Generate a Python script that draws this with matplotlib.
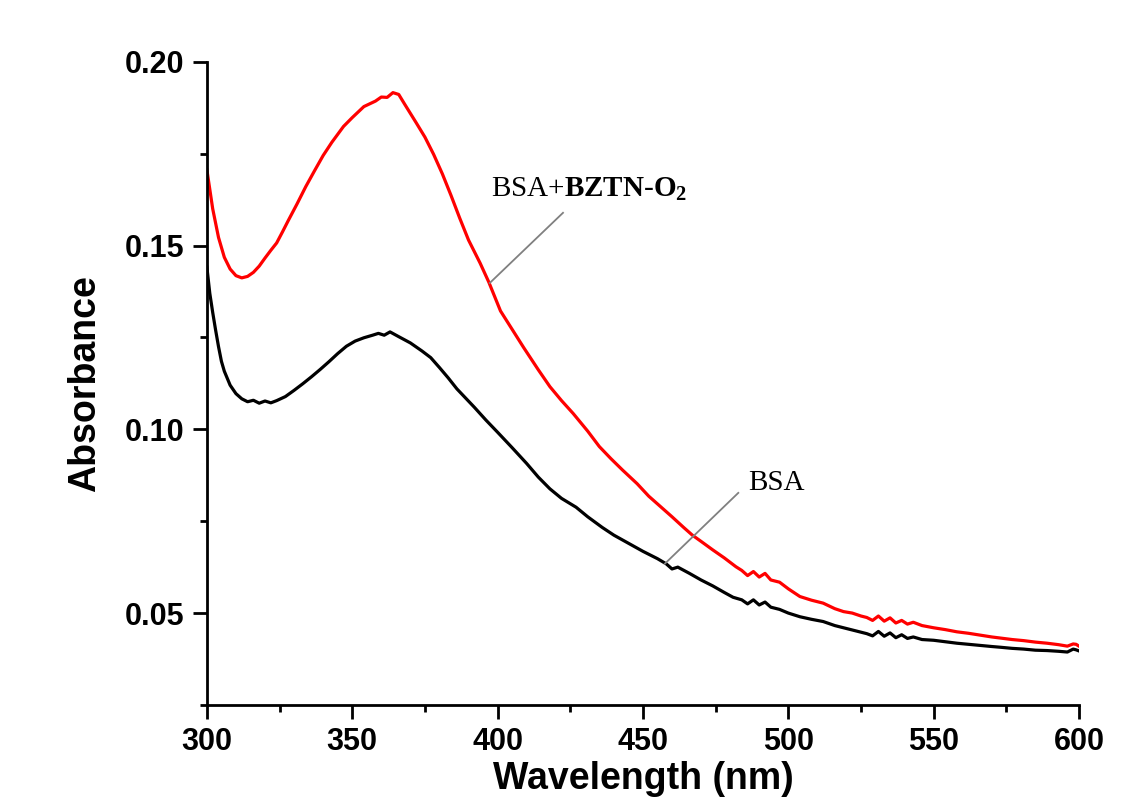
import matplotlib
matplotlib.use("Agg")
import matplotlib.pyplot as plt
from matplotlib.ticker import MultipleLocator

plt.rcParams['font.family'] = ['Liberation Sans', 'DejaVu Sans']
plt.rcParams['mathtext.fontset'] = 'custom'
plt.rcParams['mathtext.rm'] = 'Liberation Serif'
plt.rcParams['mathtext.bf'] = 'Liberation Serif:bold'

# BSA + BZTN-O2 spectrum
wl_mix = [300, 302, 304, 306, 308, 310, 312, 314, 316, 318,
          320, 322, 324, 326, 328, 331, 334, 337, 340, 343,
          347, 350, 354, 358, 360, 362, 364, 366, 368, 372,
          375, 378, 381, 384, 387, 390, 394, 397, 401, 405,
          409, 414, 418, 422, 426, 431, 435, 439, 443, 448,
          452, 456, 460, 464, 467, 470, 474, 478, 482, 484,
          486, 488, 490, 492, 494, 497, 500, 504, 508, 512,
          516, 519, 522, 525, 527, 529, 531, 533, 535, 537,
          539, 541, 543, 546, 550, 554, 558, 562, 566, 570,
          573, 577, 581, 585, 589, 593, 596, 598, 599, 600]
abs_mix = [0.1706, 0.1600, 0.1522, 0.1468, 0.1436, 0.1418, 0.1412, 0.1416, 0.1427, 0.1444,
           0.1466, 0.1487, 0.1507, 0.1537, 0.1568, 0.1613, 0.1660, 0.1703, 0.1745, 0.1781,
           0.1824, 0.1848, 0.1878, 0.1893, 0.1904, 0.1903, 0.1916, 0.1911, 0.1885, 0.1834,
           0.1795, 0.1748, 0.1695, 0.1636, 0.1574, 0.1515, 0.1452, 0.1400, 0.1322, 0.1272,
           0.1222, 0.1162, 0.1116, 0.1078, 0.1043, 0.0995, 0.0953, 0.0920, 0.0889, 0.0852,
           0.0818, 0.0790, 0.0762, 0.0733, 0.0712, 0.0695, 0.0672, 0.0650, 0.0626, 0.0616,
           0.0602, 0.0613, 0.0598, 0.0608, 0.0590, 0.0584, 0.0566, 0.0545, 0.0535, 0.0527,
           0.0512, 0.0504, 0.0500, 0.0492, 0.0488, 0.0480, 0.0492, 0.0478, 0.0487, 0.0473,
           0.0480, 0.0470, 0.0475, 0.0466, 0.0460, 0.0455, 0.0449, 0.0445, 0.0440, 0.0435,
           0.0432, 0.0428, 0.0425, 0.0421, 0.0418, 0.0414, 0.0410, 0.0416, 0.0415, 0.0410]

# BSA alone
wl_bsa = [300, 301, 302, 303, 304, 305, 306, 308, 310, 312,
          314, 316, 318, 320, 322, 324, 327, 330, 333, 336,
          339, 342, 345, 348, 351, 354, 357, 359, 361, 363,
          366, 370, 374, 377, 380, 383, 386, 389, 392, 396,
          400, 405, 410, 414, 418, 422, 427, 431, 436, 440,
          445, 450, 455, 458, 460, 462, 466, 470, 474, 478,
          481, 484, 486, 488, 490, 492, 494, 497, 500, 504,
          508, 512, 516, 520, 524, 527, 529, 531, 533, 535,
          537, 539, 541, 543, 546, 550, 554, 558, 562, 566,
          570, 573, 577, 581, 585, 589, 593, 596, 598, 599, 600]
abs_bsa = [0.1441, 0.1370, 0.1318, 0.1270, 0.1225, 0.1185, 0.1158, 0.1120, 0.1097, 0.1083,
           0.1075, 0.1079, 0.1071, 0.1077, 0.1072, 0.1078, 0.1089, 0.1106, 0.1124, 0.1143,
           0.1163, 0.1184, 0.1206, 0.1226, 0.1240, 0.1249, 0.1256, 0.1261, 0.1256, 0.1265,
           0.1252, 0.1235, 0.1213, 0.1195, 0.1168, 0.1140, 0.1110, 0.1085, 0.1060, 0.1025,
           0.0992, 0.0950, 0.0907, 0.0870, 0.0838, 0.0812, 0.0788, 0.0762, 0.0733, 0.0712,
           0.0690, 0.0668, 0.0648, 0.0634, 0.0620, 0.0625, 0.0608, 0.0590, 0.0574, 0.0556,
           0.0543, 0.0536, 0.0525, 0.0536, 0.0522, 0.0530, 0.0516, 0.0510, 0.0500, 0.0490,
           0.0483, 0.0477, 0.0466, 0.0458, 0.0450, 0.0444, 0.0438, 0.0450, 0.0437, 0.0446,
           0.0433, 0.0441, 0.0431, 0.0435, 0.0428, 0.0426, 0.0422, 0.0418, 0.0415, 0.0412,
           0.0409, 0.0407, 0.0404, 0.0402, 0.0399, 0.0398, 0.0396, 0.0394, 0.0402, 0.0400, 0.0397]

fig = plt.figure(figsize=(11.43, 8.02), dpi=100)
ax = fig.add_axes([0.181, 0.121, 0.763, 0.802])

ax.plot(wl_mix, abs_mix, color='#ff0000', lw=2.3)
ax.plot(wl_bsa, abs_bsa, color='black', lw=2.3)

ax.set_xlim(300, 600)
ax.set_ylim(0.025, 0.20)
ax.xaxis.set_major_locator(MultipleLocator(50))
ax.xaxis.set_minor_locator(MultipleLocator(25))
ax.yaxis.set_minor_locator(MultipleLocator(0.025))
ax.set_yticks([0.05, 0.10, 0.15, 0.20])
ax.set_yticklabels(['0.05', '0.10', '0.15', '0.20'])

for side in ['top', 'right']:
    ax.spines[side].set_visible(False)
for side in ['left', 'bottom']:
    ax.spines[side].set_linewidth(2.0)

ax.tick_params(which='major', direction='out', length=10, width=2.0, pad=6,
               labelsize=22)
ax.tick_params(which='minor', direction='out', length=5, width=2.0)
for lab in ax.get_xticklabels() + ax.get_yticklabels():
    lab.set_fontweight('bold')

ax.set_xlabel('Wavelength (nm)', fontsize=27, fontweight='bold', labelpad=3)
ax.set_ylabel('Absorbance', fontsize=27, fontweight='bold', labelpad=16)

# labels with leader lines
ax.plot([397.3, 422.5], [0.1398, 0.1589], color='#808080', lw=1.3)
ax.text(397.6, 0.1654, r'BSA+$\mathbf{BZTN}$-$\mathbf{O_2}$',
        fontfamily='Liberation Serif', fontsize=21, va='center')
ax.plot([457.5, 482.8], [0.0634, 0.0827], color='#808080', lw=1.3)
ax.text(486.1, 0.0853, 'BSA', fontfamily='Liberation Serif', fontsize=21,
        va='center')

fig.savefig('out.png', dpi=100)
